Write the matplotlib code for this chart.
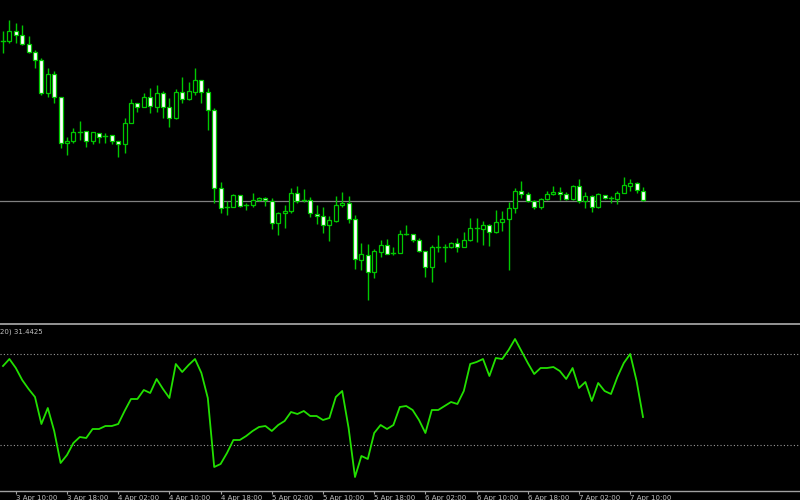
import matplotlib
matplotlib.use("Agg")
import matplotlib.pyplot as plt
from matplotlib.lines import Line2D
from matplotlib.patches import Rectangle

# Price values (chart units, larger = lower on the chart)
opens  = [41,41,31,35,44,52,60,93,74,97,143,141,132,131,141,133,136,135,141,144,
          123,103,107,97,107,93,107,118,92,99,92,80,92,110,188,207,207,195,205,205,
          200,198,201,223,213,211,193,200,200,214,216,225,221,205,203,219,260,255,272,252,
          245,253,253,234,234,240,251,267,247,247,247,243,247,240,228,229,225,232,222,219,
          208,191,194,201,207,199,194,192,194,199,186,201,196,207,195,198,199,193,186,183,191]
highs  = [31,20,23,25,36,50,58,68,71,97,137,128,121,131,132,133,133,135,141,118,
          99,103,93,88,85,91,98,89,77,82,68,80,88,108,182,201,194,195,203,193,
          197,197,198,212,205,188,186,189,197,205,207,216,196,192,196,215,243,244,249,240,
          239,247,230,225,234,238,251,245,235,244,242,238,232,218,218,221,224,210,211,202,
          188,181,192,200,198,191,186,187,192,185,179,192,195,193,195,196,191,177,179,182,187]
lows   = [53,43,43,45,53,68,95,97,103,148,155,143,140,147,144,143,143,144,157,153,
          123,112,107,113,112,118,127,119,103,100,95,103,130,203,213,215,207,207,210,207,
          201,206,229,235,228,213,203,202,217,224,233,241,222,207,223,269,270,300,278,257,
          254,255,253,235,242,252,277,282,252,262,248,252,247,241,242,245,246,233,231,270,
          213,198,202,209,209,200,195,200,200,200,203,208,212,208,199,203,204,193,191,193,201]
closes = [41,31,35,44,52,60,93,74,97,143,141,132,132,141,132,137,136,141,144,123,
          103,107,97,106,93,107,118,92,99,91,80,92,110,188,208,207,195,206,205,200,
          198,200,223,213,211,193,201,200,213,216,225,220,205,203,219,259,254,272,251,245,
          254,253,234,234,240,251,267,247,247,247,243,247,240,228,228,225,232,222,219,208,
          191,194,201,207,199,194,192,194,199,186,201,196,207,194,198,198,193,185,183,190,200]
current_level = 200.5

# Oscillator (same screen-reading units), with its two dotted levels
osc = [366,359,368,380,389,397,424,408,431,463,455,443,437,438,429,429,426,426,424,411,
       399,399,390,393,379,389,398,364,372,365,359,373,398,467,464,453,440,440,436,431,
       427,426,431,425,421,412,414,411,416,416,420,418,397,391,428,477,456,459,433,425,
       429,425,407,406,410,420,433,410,410,406,402,404,391,364,362,359,376,358,359,350,
       339,351,363,374,368,368,367,371,379,368,388,382,401,383,391,394,377,363,354,381,417]
osc_levels = [354, 445]
osc_label = "20) 31.4425"

tick_idx = [2,10,18,26,34,42,50,58,66,74,82,90,98]
tick_labels = ["3 Apr 10:00","3 Apr 18:00","4 Apr 02:00","4 Apr 10:00","4 Apr 18:00",
               "5 Apr 02:00","5 Apr 10:00","5 Apr 18:00","6 Apr 02:00","6 Apr 10:00",
               "6 Apr 18:00","7 Apr 02:00","7 Apr 10:00"]

GREEN = "#00c800"
fig = plt.figure(figsize=(8, 5), dpi=100, facecolor="black")
xl = (-3/6.4, (800-3)/6.4)

ax = fig.add_axes([0, 178/500, 1, 322/500], facecolor="black")
ax.set_xlim(*xl); ax.set_ylim(322, 0); ax.axis("off")
ax.axhline(current_level, color="#808080", lw=0.9)
w = 0.6
for i, (o, h, l, c) in enumerate(zip(opens, highs, lows, closes)):
    ax.plot([i, i], [h, l], color=GREEN, lw=1, zorder=2, solid_capstyle="butt")
    top, bot = min(o, c), max(o, c)
    if bot - top < 1:
        ax.plot([i - w/2, i + w/2], [o, o], color=GREEN, lw=1, zorder=3)
    else:
        face = "white" if c > o else "black"
        ax.add_patch(Rectangle((i - w/2, top), w, bot - top, facecolor=face,
                               edgecolor=GREEN, lw=0.9, zorder=3))

fig.add_artist(Line2D([0, 1], [1 - 324/500]*2, color="#a0a0a0", lw=1.3))

ax2 = fig.add_axes([0, 9/500, 1, 165/500], facecolor="black")
ax2.set_xlim(*xl); ax2.set_ylim(491, 326)
for lv in osc_levels:
    ax2.axhline(lv, color="#9a9a9a", lw=0.8, ls=(0, (1, 2)))
ax2.plot(range(len(osc)), osc, color="#22e000", lw=1.3)
for s in ["top", "left", "right"]:
    ax2.spines[s].set_visible(False)
ax2.spines["bottom"].set_color("#a0a0a0")
ax2.spines["bottom"].set_linewidth(1)
ax2.set_yticks([])
ax2.set_xticks(tick_idx)
ax2.set_xticklabels(tick_labels, fontsize=5, color="#c0c0c0", ha="left")
ax2.tick_params(axis="x", colors="#a0a0a0", length=2, pad=1, labelcolor="#c0c0c0")
ax2.text(0, 0.985, osc_label, transform=ax2.transAxes, fontsize=5, color="#c0c0c0",
         va="top", ha="left")

fig.savefig("out.png", facecolor="black")
